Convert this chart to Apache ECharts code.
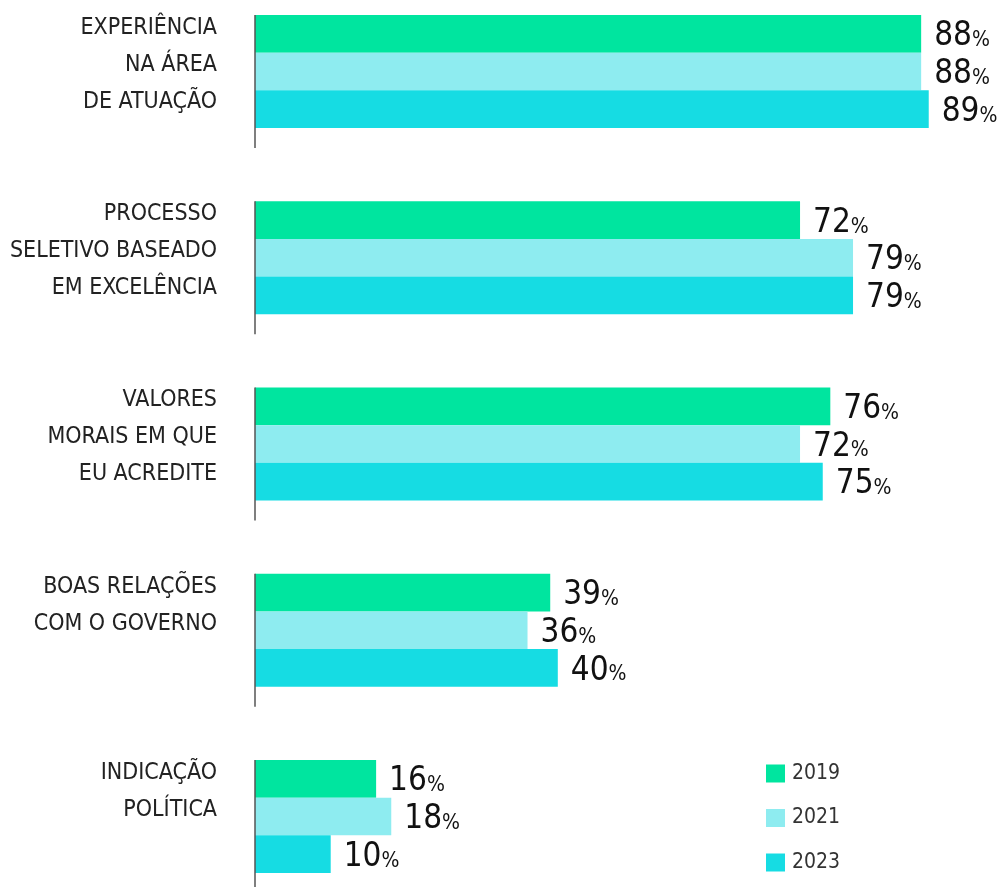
<!DOCTYPE html>
<html>
<head>
<meta charset="utf-8">
<script src="https://cdn.jsdelivr.net/npm/echarts@6/dist/echarts.min.js"></script>
<style>
  html, body { margin: 0; padding: 0; background: #fff; }
  #chart { width: 1006px; height: 887px; }
</style>
</head>
<body>
<div id="chart"></div>
<script>
// categorias e valores (%)
const categories = [
    'EXPERIÊNCIA\nNA ÁREA\nDE ATUAÇÃO',
    'PROCESSO\nSELETIVO BASEADO\nEM EXCELÊNCIA',
    'VALORES\nMORAIS EM QUE\nEU ACREDITE',
    'BOAS RELAÇÕES\nCOM O GOVERNO',
    'INDICAÇÃO\nPOLÍTICA'
];
const years = ['2019', '2021', '2023'];
const values2019 = [88, 72, 76, 39, 16];
const values2021 = [88, 79, 72, 36, 18];
const values2023 = [89, 79, 75, 40, 10];
const colors = ['#00e59f', '#8eecf0', '#16dce3'];

const FONT = '"DejaVu Sans Condensed", "Liberation Sans Narrow", sans-serif';
const GAP = 0.393;

let myChart = echarts.init(document.getElementById('chart'));

const barSeries = [values2019, values2021, values2023].map((vals, i) => ({
    name: years[i],
    type: 'bar',
    data: vals,
    barGap: 0,
    barCategoryGap: (GAP * 100) + '%',
    itemStyle: {color: colors[i]},
    label: {
        show: true,
        position: 'right',
        distance: 13,
        offset: [0, 3],
        formatter: '{n|{c}}{p|%}',
        rich: {
            n: {fontFamily: FONT, fontSize: 33, color: '#111', verticalAlign: 'bottom'},
            p: {fontFamily: FONT, fontSize: 21, color: '#111', verticalAlign: 'bottom', padding: [0, 0, 2, 0]}
        }
    }
}));

// segmentos do eixo por grupo
const axisSeries = {
    type: 'custom',
    silent: true,
    z: 5,
    encode: {x: 0, y: 1},
    data: categories.map((c, i) => [0, i]),
    renderItem: function (params, api) {
        let p = api.coord([0, api.value(1)]);
        let band = api.size([0, 1])[1];
        let half = band * (1 - GAP) / 2;
        return {
            type: 'line',
            shape: {x1: p[0], y1: p[1] - half, x2: p[0], y2: p[1] + half + 20},
            style: {stroke: '#555', lineWidth: 1.5}
        };
    }
};

let option = {
    animation: false,
    backgroundColor: '#fff',
    legend: {
        data: years,
        orient: 'vertical',
        left: 766,
        top: 763,
        padding: 0,
        icon: 'rect',
        itemWidth: 19,
        itemHeight: 18,
        itemGap: 23.5,
        textStyle: {fontFamily: FONT, fontSize: 21, lineHeight: 18, color: '#333', padding: [0, 0, 0, 2]}
    },
    grid: {left: 255, top: -21.6, width: 757, height: 931.25, outerBoundsMode: 'none', containLabel: false},
    xAxis: {
        type: 'value',
        min: 0,
        max: 100,
        show: false
    },
    yAxis: {
        type: 'category',
        data: categories,
        inverse: true,
        axisLine: {show: false},
        axisTick: {show: false},
        axisLabel: {
            margin: 38,
            formatter: function (v) {
                let lines = v.split('\n');
                while (lines.length < 3) lines.push(' ');
                return lines.map(l => '{t|' + l + '}').join('\n') + '\n{s| }';
            },
            rich: {
                t: {fontFamily: FONT, fontSize: 23, color: '#222', lineHeight: 37, align: 'right'},
                s: {fontSize: 10, lineHeight: 13}
            }
        }
    },
    series: barSeries.concat([axisSeries])
};
myChart.setOption(option, true);
</script>
</body>
</html>
